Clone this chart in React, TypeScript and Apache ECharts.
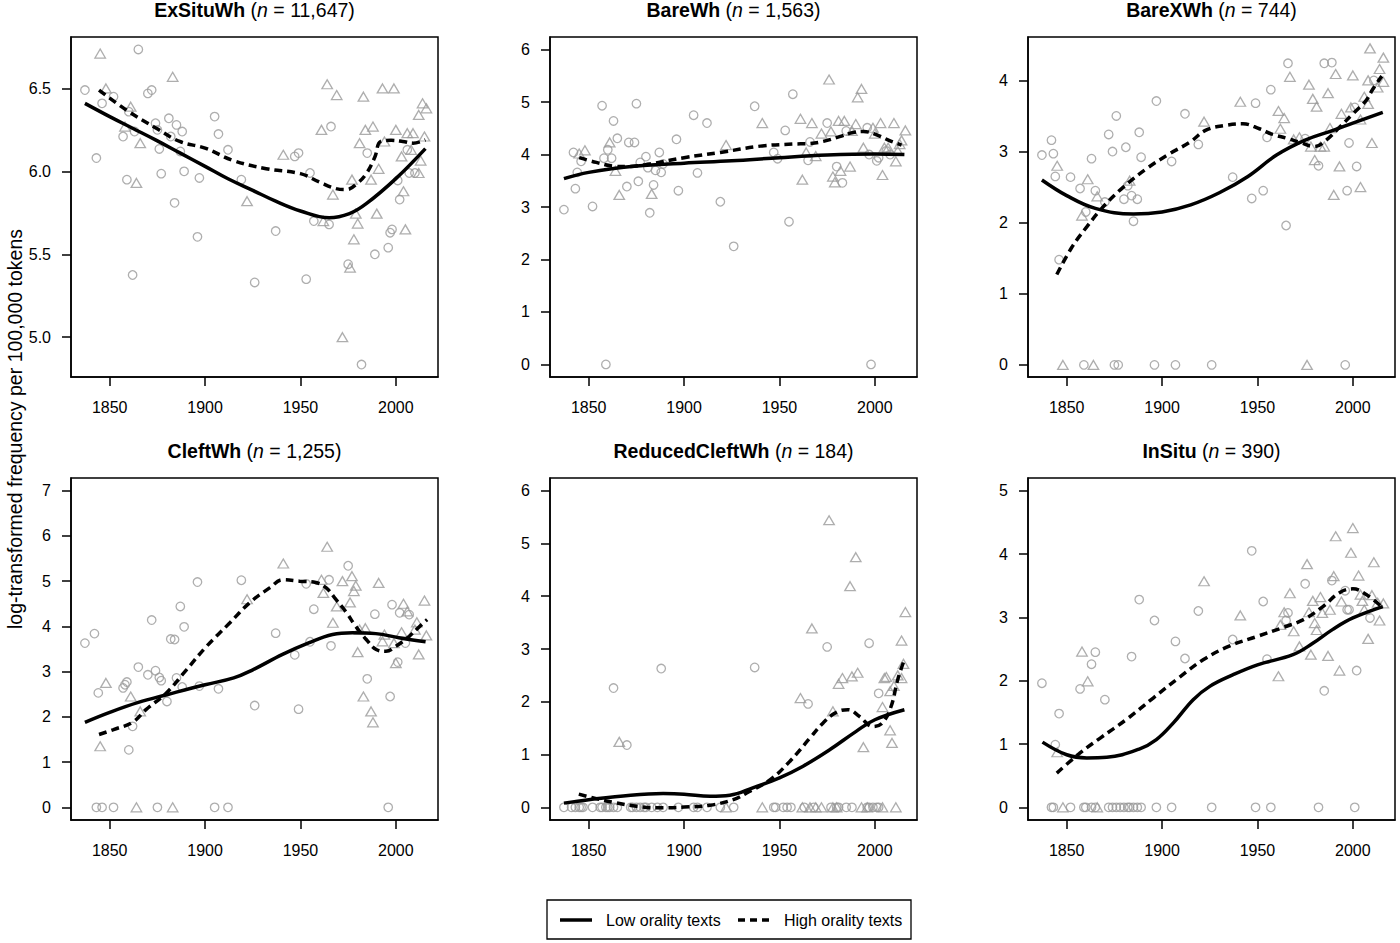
import React, { useEffect, useRef } from 'react';
import * as echarts from 'echarts';

const FONT = '"Liberation Sans", Arial, Helvetica, sans-serif';

// ---------- tick labels ----------
const xTicks = [1850, 1900, 1950, 2000];
const yTicksExSitu = [5.0, 5.5, 6.0, 6.5];
const yTicksBare = [0, 1, 2, 3, 4, 5, 6];
const yTicksBareX = [0, 1, 2, 3, 4];
const yTicksCleft = [0, 1, 2, 3, 4, 5, 6, 7];
const yTicksReduced = [0, 1, 2, 3, 4, 5, 6];
const yTicksInSitu = [0, 1, 2, 3, 4, 5];

const panelNames = ['ExSituWh', 'BareWh', 'BareXWh', 'CleftWh', 'ReducedCleftWh', 'InSitu'];
const panelCounts = ['11,647', '1,563', '744', '1,255', '184', '390'];
const legendLabels = ['Low orality texts', 'High orality texts'];
const yAxisTitle = 'log-transformed frequency per 100,000 tokens';

// ---------- ExSituWh ----------
const exSituLow = [[1837,6.49],[1843,6.08],[1846,6.41],[1852,6.45],[1857,6.21],[1859,5.95],[1860,6.36],[1862,5.375],[1863,6.24],[1865,6.735],[1870,6.47],[1872,6.49],[1874,6.29],[1875,6.25],[1876,6.135],[1877,5.986],[1881,6.32],[1882,6.21],[1884,5.81],[1885,6.28],[1887,6.12],[1888,6.24],[1889,6.0],[1896,5.605],[1897,5.96],[1905,6.33],[1907,6.225],[1912,6.13],[1919,5.95],[1926,5.33],[1937,5.64],[1947,6.09],[1949,6.11],[1953,5.35],[1955,5.99],[1957,5.70],[1965,5.68],[1966,6.27],[1975,5.44],[1982,4.835],[1985,6.11],[1989,5.5],[1996,5.54],[1997,5.63],[1998,5.65],[2001,5.945],[2002,5.83],[2006,6.13],[2007,5.99],[2010,5.99]];
const exSituHigh = [[1845,6.71],[1848,6.5],[1858,6.27],[1861,6.39],[1864,5.93],[1866,6.17],[1883,6.57],[1922,5.82],[1941,6.1],[1961,6.25],[1962,5.70],[1964,6.525],[1967,5.86],[1969,6.46],[1972,5.0],[1976,5.42],[1977,5.95],[1978,5.59],[1979,5.745],[1980,5.685],[1981,6.17],[1983,6.45],[1984,6.25],[1987,5.95],[1988,6.27],[1990,5.745],[1991,6.015],[1993,6.5],[1994,6.18],[1999,6.5],[2000,6.25],[2003,6.09],[2004,5.88],[2005,5.65],[2006,6.23],[2008,6.13],[2009,6.23],[2012,6.34],[2012,5.99],[2013,6.065],[2014,6.41],[2015,6.21],[2016,6.38]];
const exSituLowFit = [[1837,6.41],[1850,6.33],[1862,6.26],[1874,6.19],[1887,6.11],[1900,6.03],[1912,5.955],[1925,5.885],[1937,5.82],[1950,5.761],[1965,5.72],[1975.7,5.745],[1984.5,5.805],[2000,5.956],[2015.5,6.137]];
const exSituHighFit = [[1844.4,6.49],[1858.7,6.37],[1874.4,6.26],[1886.7,6.18],[1900,6.14],[1914.6,6.066],[1932,6.016],[1950,5.986],[1960,5.935],[1968.7,5.896],[1974,5.89],[1980,5.93],[1984.5,5.986],[1989,6.086],[1992,6.18],[1997.5,6.187],[2003.6,6.18],[2009,6.17],[2015.5,6.19]];

// ---------- BareWh ----------
const bareLow = [[1837,2.95],[1842,4.04],[1843,3.35],[1844,3.66],[1846,3.87],[1852,3.01],[1857,4.93],[1858,3.93],[1859,0],[1860,4.09],[1862,3.93],[1863,4.64],[1865,4.31],[1870,3.39],[1871,4.23],[1874,4.23],[1875,4.97],[1876,3.49],[1877,3.85],[1880,3.96],[1881,3.75],[1882,2.89],[1884,3.42],[1885,3.70],[1887,4.04],[1888,3.66],[1889,3.82],[1896,4.29],[1897,3.31],[1905,4.75],[1907,3.65],[1912,4.6],[1919,3.10],[1926,2.25],[1937,4.92],[1947,4.04],[1949,3.92],[1953,4.46],[1955,2.72],[1957,5.15],[1965,3.89],[1966,4.24],[1975,4.6],[1980,3.77],[1983,3.46],[1985,4.45],[1996,4.51],[1997,4.0],[1998,0],[2001,3.88],[2002,3.94],[2006,4.07],[2008,4.0]];
const bareHigh = [[1845,4.02],[1848,4.08],[1861,4.23],[1864,3.69],[1866,3.23],[1883,3.25],[1922,4.18],[1941,4.6],[1961,4.68],[1962,3.52],[1964,4.04],[1967,4.6],[1969,3.97],[1972,4.4],[1976,5.43],[1977,4.44],[1978,3.58],[1979,3.47],[1981,4.64],[1982,3.69],[1984,4.64],[1987,3.77],[1988,4.45],[1990,4.58],[1991,5.09],[1993,5.25],[1994,4.13],[1999,4.51],[2000,4.4],[2003,4.6],[2004,3.61],[2005,4.13],[2007,4.13],[2010,4.6],[2011,3.87],[2012,4.07],[2013,4.2],[2014,4.27],[2016,4.46]];
const bareLowFit = [[1837,3.54],[1850,3.66],[1875,3.78],[1900,3.835],[1925,3.88],[1950,3.94],[1975,3.99],[2000,4.01],[2015.5,4.0]];
const bareHighFit = [[1845,3.94],[1854,3.85],[1863,3.78],[1870,3.77],[1882,3.82],[1900,3.94],[1919,4.04],[1940,4.16],[1957,4.2],[1966,4.21],[1973,4.25],[1981.5,4.34],[1988.5,4.42],[1994,4.44],[2000,4.39],[2008,4.26],[2014,4.18]];

// ---------- BareXWh ----------
const bareXLow = [[1837,2.95],[1842,3.16],[1843,2.97],[1844,2.65],[1846,1.48],[1852,2.64],[1857,2.48],[1859,0],[1860,2.15],[1863,2.90],[1865,2.45],[1870,2.29],[1872,3.24],[1874,3.0],[1875,0],[1876,3.5],[1877,0],[1880,2.33],[1881,3.06],[1882,2.52],[1884,2.38],[1885,2.02],[1887,2.33],[1888,3.27],[1889,2.92],[1896,0],[1897,3.71],[1905,2.86],[1907,0],[1912,3.53],[1919,3.10],[1926,0],[1937,2.64],[1947,2.34],[1949,3.68],[1953,2.45],[1955,3.2],[1957,3.87],[1965,1.96],[1966,4.24],[1975,3.18],[1982,2.80],[1985,4.24],[1989,4.25],[1996,0],[1997,2.45],[1998,3.12],[2001,3.62],[2002,2.79],[2011,4.0]];
const bareXHigh = [[1845,2.80],[1848,0],[1858,2.1],[1861,2.61],[1864,0],[1866,2.37],[1883,2.59],[1922,3.42],[1941,3.70],[1961,3.57],[1962,3.32],[1964,3.47],[1967,4.05],[1969,3.17],[1972,3.2],[1976,0],[1977,3.94],[1978,3.07],[1979,3.74],[1980,2.88],[1981,3.63],[1983,3.07],[1985,3.07],[1987,3.82],[1988,3.33],[1990,2.39],[1991,4.09],[1993,2.79],[1994,3.53],[1999,3.62],[2000,4.07],[2004,3.45],[2004,2.5],[2006,3.77],[2008,3.67],[2008,4.0],[2009,4.45],[2010,3.12],[2013,3.9],[2014,4.16],[2016,4.32],[2016,3.98]];
const bareXLowFit = [[1837,2.6],[1850,2.38],[1865,2.2],[1885,2.12],[1900,2.15],[1915,2.25],[1930,2.42],[1945,2.65],[1960,2.95],[1975,3.16],[1990,3.3],[2000,3.4],[2015.7,3.55]];
const bareXHighFit = [[1844.8,1.27],[1852.6,1.65],[1860.5,1.94],[1869,2.22],[1879.7,2.5],[1891.9,2.76],[1904,2.97],[1914.5,3.13],[1923,3.3],[1933.7,3.37],[1942.4,3.39],[1951,3.32],[1958,3.24],[1965,3.19],[1972,3.13],[1980,3.07],[1986,3.16],[1993,3.34],[2000,3.53],[2007,3.72],[2010.5,3.88],[2015.2,4.06]];

// ---------- CleftWh ----------
const cleftLow = [[1837,3.63],[1842,3.84],[1843,0],[1844,2.53],[1846,0],[1852,0],[1857,2.64],[1858,2.71],[1859,2.77],[1860,1.27],[1862,1.79],[1865,3.1],[1870,2.93],[1872,4.14],[1874,3.02],[1875,0],[1876,2.87],[1877,2.8],[1880,2.34],[1882,3.72],[1884,3.71],[1885,2.86],[1887,4.44],[1888,2.66],[1889,3.99],[1896,4.98],[1897,2.68],[1905,0],[1907,2.62],[1912,0],[1919,5.02],[1926,2.25],[1937,3.85],[1947,3.37],[1949,2.17],[1953,4.94],[1955,3.66],[1957,4.38],[1965,5.03],[1966,3.57],[1975,5.34],[1985,2.84],[1989,4.27],[1996,0],[1997,2.45],[1998,4.48],[2001,3.21],[2002,4.3],[2005,3.63],[2007,4.26]];
const cleftHigh = [[1845,1.35],[1848,2.75],[1861,2.45],[1864,0],[1866,2.12],[1883,0],[1922,4.6],[1941,5.39],[1961,5.03],[1962,4.74],[1964,5.76],[1967,4.08],[1969,4.44],[1972,5.0],[1976,4.53],[1977,5.11],[1978,4.78],[1979,4.9],[1980,3.43],[1981,3.93],[1983,2.45],[1984,3.96],[1987,2.12],[1988,1.88],[1991,4.96],[1993,3.67],[1994,3.82],[1999,3.63],[2000,3.19],[2003,3.87],[2004,4.5],[2006,4.33],[2010,3.93],[2011,4.09],[2012,3.38],[2015,4.57],[2016,3.8]];
const cleftLowFit = [[1837,1.88],[1850,2.1],[1865,2.32],[1880,2.49],[1900,2.71],[1915,2.86],[1925,3.04],[1940.6,3.38],[1954.6,3.64],[1966.8,3.82],[1977.3,3.86],[1989.5,3.84],[2001.6,3.75],[2015.6,3.66]];
const cleftHighFit = [[1844.4,1.61],[1852,1.72],[1862,1.88],[1869,2.16],[1879.7,2.53],[1890.2,3.04],[1900.8,3.56],[1913,4.08],[1923.3,4.52],[1933.8,4.85],[1940.8,5.03],[1949.5,5.0],[1958,4.97],[1963.5,4.85],[1968.7,4.59],[1974,4.31],[1979,4.0],[1984.5,3.71],[1989.7,3.49],[1994.8,3.45],[2000,3.56],[2007,3.78],[2011.5,3.96],[2016.4,4.15]];

// ---------- ReducedCleftWh ----------
const reducedLow = [[1837,0],[1841,0],[1843,0],[1845,0],[1846,0],[1847,0],[1852,0],[1856,0],[1857,0],[1859,0],[1860,0],[1861,0],[1863,0],[1863,2.26],[1865,0],[1870,1.18],[1872,0],[1873,0],[1875,0],[1877,0],[1879,0],[1880,0],[1883,0],[1886,0],[1888,2.63],[1889,0],[1897,0],[1905,0],[1907,0],[1912,0],[1919,0],[1926,0],[1937,2.65],[1947,0],[1948,0],[1952,0],[1954,0],[1956,0],[1963,0],[1965,1.96],[1968,0],[1975,3.04],[1977,0],[1980,0],[1981,0],[1985,0],[1988,0],[1996,0],[1997,3.11],[1997,0],[1999,0],[2001,0],[2002,2.16],[2002,0]];
const reducedHigh = [[1866,1.24],[1922,0],[1941,0],[1961,2.07],[1962,0],[1966,0],[1967,3.39],[1969,0],[1972,0],[1976,5.44],[1978,1.82],[1978,0],[1980,0],[1981,2.34],[1983,2.45],[1987,4.19],[1988,2.48],[1990,4.74],[1991,2.55],[1993,0],[1994,1.14],[1996,0],[2004,1.9],[2004,0],[2005,2.45],[2006,2.47],[2008,2.2],[2008,1.46],[2009,1.22],[2010,2.3],[2011,0],[2012,2.5],[2014,2.45],[2014,3.16],[2015,2.72],[2016,3.7]];
const reducedLowFit = [[1837,0.08],[1850,0.145],[1872,0.23],[1889,0.26],[1900,0.25],[1913.6,0.21],[1924,0.23],[1936,0.37],[1950,0.56],[1962.4,0.78],[1976.3,1.09],[1990.2,1.44],[2000,1.66],[2015.5,1.85]];
const reducedHighFit = [[1844.8,0.25],[1854.4,0.16],[1863,0.095],[1875,0.02],[1885.7,-0.01],[1900,0.005],[1913.6,0.04],[1925.8,0.145],[1932.8,0.27],[1945,0.52],[1955.4,0.87],[1965.9,1.31],[1972.9,1.6],[1979.8,1.8],[1985.9,1.85],[1992,1.72],[1999,1.53],[2004,1.6],[2008.5,1.91],[2012,2.42],[2015.5,2.8]];

// ---------- InSitu ----------
const inSituLow = [[1837,1.96],[1842,0],[1843,0],[1844,0.99],[1846,1.48],[1852,0],[1857,1.87],[1859,0],[1860,0],[1863,2.26],[1863,0],[1865,2.45],[1865,0],[1870,1.7],[1872,0],[1874,0],[1876,0],[1878,0],[1880,0],[1882,0],[1883,0],[1884,2.38],[1885,0],[1887,0],[1888,3.28],[1889,0],[1896,2.95],[1897,0],[1905,0],[1907,2.62],[1912,2.35],[1919,3.1],[1926,0],[1937,2.65],[1947,4.05],[1949,0],[1953,3.25],[1955,2.34],[1957,0],[1965,2.95],[1966,3.07],[1975,3.53],[1982,0],[1985,1.84],[1989,3.58],[1996,3.42],[1997,3.12],[1998,3.12],[2001,0],[2002,2.16],[2009,2.99]];
const inSituHigh = [[1845,0.87],[1848,0],[1858,2.46],[1861,1.99],[1866,0],[1922,3.57],[1941,3.03],[1961,2.07],[1962,2.88],[1964,3.08],[1967,3.38],[1969,2.78],[1972,2.54],[1976,3.84],[1977,3.08],[1978,2.41],[1979,3.26],[1980,2.91],[1981,2.8],[1983,3.32],[1984,3.07],[1987,2.39],[1988,3.12],[1990,3.65],[1991,4.28],[1993,2.16],[1994,3.25],[1999,4.02],[2000,4.41],[2003,3.66],[2004,3.36],[2005,3.26],[2006,3.12],[2008,2.66],[2010,3.35],[2011,3.87],[2013,3.23],[2014,2.95],[2016,3.22]];
const inSituLowFit = [[1837.3,1.03],[1850,0.83],[1860.5,0.78],[1871,0.79],[1888,0.92],[1897,1.07],[1905.8,1.33],[1916.3,1.7],[1925,1.91],[1937,2.09],[1950,2.25],[1968.6,2.41],[1979,2.59],[1989.5,2.81],[2000,2.99],[2015.7,3.17]];
const inSituHighFit = [[1844.8,0.54],[1857,0.86],[1867.4,1.09],[1881.4,1.39],[1895.5,1.73],[1909.4,2.06],[1921.5,2.33],[1935.5,2.55],[1950,2.7],[1963.4,2.84],[1973.8,2.96],[1984.3,3.17],[1993,3.39],[2000,3.45],[2007,3.36],[2015.7,3.15]];

// ---------- assembly ----------
const panels = [
  { low: exSituLow, high: exSituHigh, lowFit: exSituLowFit, highFit: exSituHighFit, yTicks: yTicksExSitu, yMin: 4.76, yMax: 6.81, dec: 1 },
  { low: bareLow, high: bareHigh, lowFit: bareLowFit, highFit: bareHighFit, yTicks: yTicksBare, yMin: -0.24, yMax: 6.24, dec: 0 },
  { low: bareXLow, high: bareXHigh, lowFit: bareXLowFit, highFit: bareXHighFit, yTicks: yTicksBareX, yMin: -0.17, yMax: 4.61, dec: 0 },
  { low: cleftLow, high: cleftHigh, lowFit: cleftLowFit, highFit: cleftHighFit, yTicks: yTicksCleft, yMin: -0.28, yMax: 7.28, dec: 0 },
  { low: reducedLow, high: reducedHigh, lowFit: reducedLowFit, highFit: reducedHighFit, yTicks: yTicksReduced, yMin: -0.24, yMax: 6.24, dec: 0 },
  { low: inSituLow, high: inSituHigh, lowFit: inSituLowFit, highFit: inSituHighFit, yTicks: yTicksInSitu, yMin: -0.2, yMax: 5.2, dec: 0 },
];

const colLeft = [71, 550, 1028];
const rowTop = [37, 478];
const rowHeight = [340, 342];
const titleTop = [0, 441];
const boxW = 367;
const xMin = 1829.7;
const xMax = 2022.1;
const GREY = '#9a9a9a';

function buildOption() {
  const grid: any[] = [];
  const xAxis: any[] = [];
  const yAxis: any[] = [];
  const series: any[] = [];
  const title: any[] = [];
  panels.forEach((p, i) => {
    const col = i % 3;
    const row = Math.floor(i / 3);
    grid.push({
      left: colLeft[col], top: rowTop[row], width: boxW, height: rowHeight[row],
      show: true, borderColor: '#000', borderWidth: 1.5, backgroundColor: 'transparent',
    });
    xAxis.push({
      type: 'value', gridIndex: i, min: xMin, max: xMax,
      axisLine: { show: true, onZero: false, lineStyle: { color: '#000', width: 1.5 } },
      axisTick: { show: true, inside: false, length: 9, customValues: xTicks, lineStyle: { color: '#000', width: 1.5 } },
      axisLabel: { show: true, customValues: xTicks, margin: 22, fontSize: 16, color: '#000', fontFamily: FONT, formatter: (v: number) => String(v) },
      splitLine: { show: false },
    });
    yAxis.push({
      type: 'value', gridIndex: i, min: p.yMin, max: p.yMax,
      axisLine: { show: true, onZero: false, lineStyle: { color: '#000', width: 1.5 } },
      axisTick: { show: true, inside: false, length: 9, customValues: p.yTicks, lineStyle: { color: '#000', width: 1.5 } },
      axisLabel: { show: true, customValues: p.yTicks, margin: 20, fontSize: 16, color: '#000', fontFamily: FONT, formatter: (v: number) => (p.dec ? v.toFixed(1) : String(v)) },
      splitLine: { show: false },
    });
    title.push({
      text: `{b|${panelNames[i]}} ({i|n} = ${panelCounts[i]})`,
      left: colLeft[col] + boxW / 2, top: titleTop[row], textAlign: 'center', padding: 0,
      textStyle: {
        fontSize: 19.5, fontFamily: FONT, color: '#000', fontWeight: 'normal',
        rich: {
          b: { fontWeight: 'bold', fontSize: 19.5, fontFamily: FONT, color: '#000' },
          i: { fontStyle: 'italic', fontSize: 19.5, fontFamily: FONT, color: '#000' },
        },
      },
    });
    series.push({
      type: 'scatter', name: 'low-pts-' + i, xAxisIndex: i, yAxisIndex: i, data: p.low,
      symbol: 'circle', symbolSize: 8.5, silent: true, z: 2,
      itemStyle: { color: 'rgba(0,0,0,0)', borderColor: GREY, borderWidth: 1.3 },
    });
    series.push({
      type: 'scatter', name: 'high-pts-' + i, xAxisIndex: i, yAxisIndex: i, data: p.high,
      symbol: 'triangle', symbolSize: [10.5, 9], silent: true, z: 2,
      itemStyle: { color: 'rgba(0,0,0,0)', borderColor: GREY, borderWidth: 1.3 },
    });
    series.push({
      type: 'line', name: legendLabels[0], xAxisIndex: i, yAxisIndex: i, data: p.lowFit,
      smooth: 0.4, symbol: 'none', showSymbol: false, silent: true, z: 4,
      lineStyle: { color: '#000', width: 3.5, type: 'solid' },
    });
    series.push({
      type: 'line', name: legendLabels[1], xAxisIndex: i, yAxisIndex: i, data: p.highFit,
      smooth: 0.4, symbol: 'none', showSymbol: false, silent: true, z: 4,
      lineStyle: { color: '#000', width: 3.5, type: [8, 5] },
    });
  });

  const graphic: any[] = [
    {
      type: 'text', x: 14.5, y: 429, rotation: Math.PI / 2,
      style: { text: yAxisTitle, fontSize: 19.5, fontFamily: FONT, fill: '#000', align: 'center', verticalAlign: 'middle' },
    },
    { type: 'rect', shape: { x: 547, y: 900, width: 364, height: 39 }, style: { fill: 'none', stroke: '#000', lineWidth: 1.3 } },
    { type: 'line', shape: { x1: 560, y1: 920, x2: 592, y2: 920 }, style: { stroke: '#000', lineWidth: 3.5 } },
    { type: 'text', x: 606, y: 920, style: { text: legendLabels[0], fontSize: 16, fontFamily: FONT, fill: '#000', verticalAlign: 'middle' } },
    { type: 'line', shape: { x1: 738, y1: 920, x2: 769, y2: 920 }, style: { stroke: '#000', lineWidth: 3.5, lineDash: [7, 5] } },
    { type: 'text', x: 784, y: 920, style: { text: legendLabels[1], fontSize: 16, fontFamily: FONT, fill: '#000', verticalAlign: 'middle' } },
  ];

  return {
    animation: false,
    backgroundColor: '#fff',
    textStyle: { fontFamily: FONT },
    title, grid, xAxis, yAxis, series, graphic,
  };
}

export default function App() {
  const ref = useRef<HTMLDivElement>(null);
  useEffect(() => {
    document.body.style.margin = '0';
    if (!ref.current) return;
    const chart = echarts.init(ref.current, undefined, { renderer: 'svg' });
    chart.setOption(buildOption() as any);
    return () => chart.dispose();
  }, []);
  return <div ref={ref} style={{ width: 1400, height: 943 }} />;
}
